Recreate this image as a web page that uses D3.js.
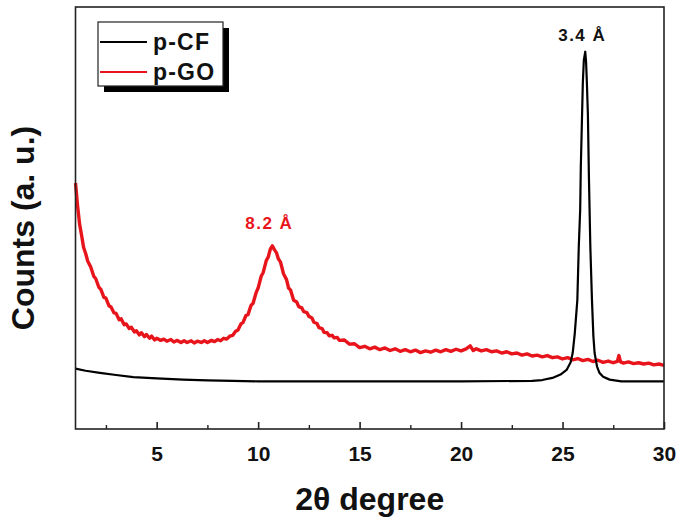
<!DOCTYPE html>
<html>
<head>
<meta charset="utf-8">
<script src="https://cdn.jsdelivr.net/npm/d3@7"></script>
<style>
  body { margin: 0; background: #fff; }
  svg { display: block; }
</style>
</head>
<body>
<svg id="chart"></svg>
<script>

// p-CF curve: [2theta, counts]
var cfData = [
  [1.0, 14.3], [1.5, 13.8], [2.2, 13.3], [3.0, 12.8], [3.85, 12.3], [5.0, 12.0],
  [6.3, 11.7], [7.5, 11.5], [8.75, 11.4], [10, 11.3], [12, 11.3], [16, 11.3], [20, 11.3],
  [23.5, 11.4], [24.0, 11.6], [24.5, 12.1], [24.9, 12.9], [25.2, 14.0], [25.4, 15.8],
  [25.5, 18.0], [25.6, 22.5], [25.73, 30.6], [25.8, 43.2], [25.87, 52], [25.9, 62],
  [25.95, 72], [26.0, 82], [26.05, 87.4], [26.12, 89.4], [26.16, 87], [26.2, 82],
  [26.25, 74.4], [26.3, 59.7], [26.37, 43.2], [26.45, 30.6], [26.52, 22], [26.58, 18.0],
  [26.7, 14.8], [26.82, 13.3], [27.0, 12.4], [27.32, 11.7], [27.9, 11.3], [30, 11.3]
];

// p-GO curve: [2theta, counts]
var goData = [
  [1.0, 58.3], [1.1, 53.0], [1.2, 48.6], [1.3, 45.9], [1.4, 43.0], [1.5, 41.6],
  [1.6, 39.8], [1.75, 38.4], [1.9, 36.2], [2.0, 35.6], [2.15, 33.6], [2.25, 33.1],
  [2.4, 31.2], [2.5, 31.0], [2.65, 29.2], [2.75, 28.9], [2.9, 27.5], [3.0, 27.4],
  [3.15, 25.9], [3.25, 26.1], [3.4, 24.7], [3.5, 24.9], [3.65, 23.8], [3.75, 24.1],
  [3.9, 23.0], [4.0, 23.3], [4.15, 22.3], [4.25, 22.8], [4.4, 21.9], [4.5, 22.4],
  [4.65, 21.5], [4.75, 22.0], [4.9, 21.1], [5.0, 21.5], [5.2, 21.0], [5.35, 21.3],
  [5.5, 20.8], [5.7, 21.2], [5.85, 20.6], [6.0, 21.0], [6.2, 20.5], [6.35, 20.9],
  [6.5, 20.5], [6.7, 20.9], [6.85, 20.4], [7.0, 20.8], [7.2, 20.5], [7.35, 20.9],
  [7.5, 20.5], [7.7, 21.0], [7.85, 20.7], [8.0, 21.2], [8.15, 20.9], [8.3, 21.5],
  [8.45, 21.3], [8.6, 22.0], [8.75, 22.2], [8.9, 23.2], [9.0, 23.4], [9.15, 24.9],
  [9.25, 25.2], [9.4, 26.9], [9.5, 27.1], [9.65, 29.3], [9.75, 29.8], [9.9, 32.3],
  [10.0, 33.4], [10.15, 36.2], [10.25, 37.1], [10.4, 39.9], [10.5, 40.8], [10.6, 42.6],
  [10.7, 43.4], [10.8, 42.5], [10.9, 41.8], [11.0, 40.3], [11.1, 39.6], [11.25, 36.8],
  [11.4, 35.4], [11.5, 33.4], [11.6, 32.9], [11.75, 30.5], [11.9, 30.1], [12.0, 29.0],
  [12.15, 28.7], [12.25, 27.8], [12.4, 27.6], [12.5, 26.7], [12.65, 26.3], [12.75, 25.3],
  [12.9, 25.0], [13.0, 24.0], [13.15, 23.8], [13.25, 22.9], [13.4, 22.8], [13.5, 22.1],
  [13.65, 22.2], [13.75, 21.6], [13.9, 21.7], [14.0, 21.0], [14.25, 21.1], [14.5, 20.1],
  [14.75, 20.2], [15.0, 19.3], [15.25, 19.6], [15.5, 19.0], [15.75, 19.4], [16.0, 18.8],
  [16.25, 19.2], [16.5, 18.6], [16.75, 19.0], [17.0, 18.4], [17.25, 18.8], [17.5, 18.3],
  [17.75, 18.7], [18.0, 18.1], [18.25, 18.5], [18.5, 18.2], [18.75, 18.7], [19.0, 18.3],
  [19.25, 18.8], [19.5, 18.4], [19.75, 18.9], [20.0, 18.5], [20.25, 19.0], [20.45, 19.7],
  [20.6, 18.6], [20.75, 19.0], [21.0, 18.5], [21.25, 18.8], [21.5, 18.3], [21.75, 18.5],
  [22.0, 18.0], [22.25, 18.3], [22.5, 17.8], [22.75, 18.0], [23.0, 17.5], [23.25, 17.8],
  [23.5, 17.3], [23.75, 17.5], [24.0, 17.1], [24.25, 17.4], [24.5, 16.9], [24.75, 17.1],
  [25.0, 16.6], [25.25, 16.9], [25.5, 16.4], [25.75, 16.7], [26.0, 16.2], [26.25, 16.5],
  [26.5, 16.0], [26.75, 16.3], [27.0, 15.8], [27.25, 16.1], [27.5, 15.7], [27.7, 16.0],
  [27.78, 17.4], [27.86, 15.9], [28.0, 15.6], [28.25, 15.9], [28.5, 15.5], [28.75, 15.7],
  [29.0, 15.4], [29.25, 15.6], [29.5, 15.2], [29.75, 15.4], [30.0, 15.1]
];

var xTicks = [5, 10, 15, 20, 25, 30];
var xMinorTicks = [2.5, 7.5, 12.5, 17.5, 22.5, 27.5];

var legendNames = ["p-CF", "p-GO"];
var legendColors = ["#000000", "#e8141b"];

// peak labels: [2theta, counts, text]
var peakLabels = [
  [26.12, 89.4, "3.4 Å"],
  [10.7, 43.4, "8.2 Å"]
];

var width = 685;
var height = 524;
var margin = { top: 7, right: 21, bottom: 95, left: 75.5 };

var svg = d3.select("#chart")
            .attr("width", width)
            .attr("height", height);

// scales
var xScale = d3.scaleLinear()
               .domain([1, 30])
               .range([margin.left, width - margin.right]);

var yScale = d3.scaleLinear()
               .domain([0, 100])
               .range([height - margin.bottom, margin.top]);

var plotBottom = height - margin.bottom;

// curves
var line = d3.line()
             .x(function(d) { return xScale(d[0]); })
             .y(function(d) { return yScale(d[1]); });

svg.append("path")
   .datum(goData)
   .attr("d", line)
   .attr("fill", "none")
   .attr("stroke", legendColors[1])
   .attr("stroke-width", 3.4)
   .attr("stroke-linejoin", "round");

svg.append("path")
   .datum(cfData)
   .attr("d", line)
   .attr("fill", "none")
   .attr("stroke", legendColors[0])
   .attr("stroke-width", 2.2)
   .attr("stroke-linejoin", "round");

// bottom axis, ticks pointing inward
var xAxis = d3.axisBottom(xScale)
              .tickValues(xTicks)
              .tickSizeInner(-7)
              .tickSizeOuter(0)
              .tickPadding(17);

var gx = svg.append("g")
   .attr("transform", "translate(0," + plotBottom + ")")
   .call(xAxis);

gx.select(".domain").remove();
gx.selectAll("line").attr("stroke", "#222").attr("stroke-width", 1.6);
gx.selectAll("text")
  .attr("font-family", "Liberation Sans, Arial, sans-serif")
  .attr("font-weight", "bold")
  .attr("font-size", "21px")
  .attr("fill", "#111");

var xMinor = d3.axisBottom(xScale)
               .tickValues(xMinorTicks)
               .tickSizeInner(-4)
               .tickSizeOuter(0)
               .tickFormat("");

var gm = svg.append("g")
   .attr("transform", "translate(0," + plotBottom + ")")
   .call(xMinor);

gm.select(".domain").remove();
gm.selectAll("line").attr("stroke", "#222").attr("stroke-width", 1.4);

// frame
svg.append("rect")
   .attr("x", xScale(1))
   .attr("y", yScale(100))
   .attr("width", xScale(30) - xScale(1))
   .attr("height", yScale(0) - yScale(100))
   .attr("fill", "none")
   .attr("stroke", "#222")
   .attr("stroke-width", 1.6);

// peak labels
svg.selectAll(".peak")
   .data(peakLabels)
   .enter()
   .append("text")
   .attr("class", "peak")
   .attr("x", function(d) { return xScale(d[0]) - 3; })
   .attr("y", function(d, i) { return yScale(d[1]) - (i == 0 ? 11 : 17); })
   .attr("text-anchor", "middle")
   .attr("font-family", "Liberation Sans, Arial, sans-serif")
   .attr("font-size", "17px")
   .attr("letter-spacing", "1.5px")
   .attr("font-weight", "bold")
   .attr("fill", function(d, i) { return i == 0 ? "#111" : legendColors[1]; })
   .text(function(d) { return d[2]; });

// legend with drop shadow
var legend = svg.append("g").attr("transform", "translate(98,22)");

legend.append("rect")
      .attr("x", 6)
      .attr("y", 6)
      .attr("width", 125)
      .attr("height", 64)
      .attr("fill", "#000");

legend.append("rect")
      .attr("x", 0)
      .attr("y", 0)
      .attr("width", 125)
      .attr("height", 64)
      .attr("fill", "#fff")
      .attr("stroke", "#222")
      .attr("stroke-width", 1.2);

legendNames.forEach(function(name, i) {
    var y = 20 + i * 30;
    legend.append("line")
          .attr("x1", 2)
          .attr("x2", 49)
          .attr("y1", y)
          .attr("y2", y)
          .attr("stroke", legendColors[i])
          .attr("stroke-width", 2);
    legend.append("text")
          .attr("x", 55)
          .attr("y", y + 8)
          .attr("font-family", "Liberation Sans, Arial, sans-serif")
          .attr("font-weight", "bold")
          .attr("font-size", "23px")
          .attr("letter-spacing", "1.2px")
          .attr("fill", "#111")
          .text(name);
});

// axis labels
svg.append("text")
   .attr("x", (xScale(1) + xScale(30)) / 2)
   .attr("y", 510)
   .attr("text-anchor", "middle")
   .attr("font-family", "Liberation Sans, Arial, sans-serif")
   .attr("font-weight", "bold")
   .attr("font-size", "32px")
   .attr("fill", "#111")
   .text("2θ degree");

svg.append("text")
   .attr("transform", "translate(34,228) rotate(-90)")
   .attr("text-anchor", "middle")
   .attr("font-family", "Liberation Sans, Arial, sans-serif")
   .attr("font-weight", "bold")
   .attr("font-size", "32px")
   .attr("fill", "#111")
   .text("Counts (a. u.)");

</script>
</body>
</html>
